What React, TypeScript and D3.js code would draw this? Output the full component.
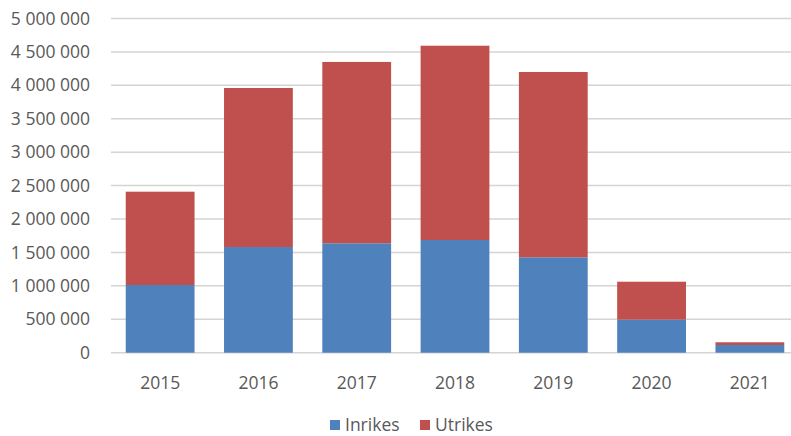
import React, { useEffect, useRef } from 'react';
import * as d3 from 'd3';

const years = ['2015', '2016', '2017', '2018', '2019', '2020', '2021'];
const inrikes = [1013000, 1581000, 1637000, 1686000, 1427000, 494000, 115000];
const utrikes = [1396000, 2379000, 2713000, 2907000, 2773000, 568000, 41000];
const seriesNames = ['Inrikes', 'Utrikes'];
const colors = ['#4F81BD', '#C0504D'];
const yTicks = [0, 500000, 1000000, 1500000, 2000000, 2500000, 3000000, 3500000, 4000000, 4500000, 5000000];

const App = () => {
    const ref = useRef<SVGSVGElement>(null);

    useEffect(() => {
        const width = 791;
        const height = 436;
        const margin = { top: 18.5, right: -8, bottom: 83.3, left: 111 };
        const font = '"Open Sans", "Noto Sans", sans-serif';
        const fontSize = 17.5;

        const svg = d3.select(ref.current);
        svg.selectAll('*').remove();

        const x = d3.scaleBand()
            .domain(years)
            .range([margin.left, width - margin.right])
            .paddingInner(0.3)
            .paddingOuter(0.15);

        const y = d3.scaleLinear()
            .domain([0, 5000000])
            .range([height - margin.bottom, margin.top]);

        const fmt = (v: number) => d3.format(',')(v).replace(/,/g, ' ');

        // gridlines
        svg.append('g')
            .selectAll('line')
            .data(yTicks)
            .join('line')
                .attr('x1', margin.left)
                .attr('x2', width)
                .attr('y1', d => y(d))
                .attr('y2', d => y(d))
                .attr('stroke', '#D4D4D4')
                .attr('stroke-width', 1.5);

        // y labels
        svg.append('g')
            .selectAll('text')
            .data(yTicks)
            .join('text')
                .attr('x', 90)
                .attr('y', d => y(d))
                .attr('dy', '0.35em')
                .attr('text-anchor', 'end')
                .attr('font-family', font)
                .attr('font-size', fontSize)
                .attr('fill', '#595959')
                .text(d => fmt(d));

        const rows = years.map((yr, i) => ({ year: yr, Inrikes: inrikes[i], Utrikes: utrikes[i] }));
        const stacked = d3.stack<any>().keys(seriesNames)(rows);

        svg.append('g')
            .selectAll('g')
            .data(stacked)
            .join('g')
                .attr('fill', (_, i) => colors[i])
            .selectAll('rect')
            .data(d => d)
            .join('rect')
                .attr('x', d => x(d.data.year)!)
                .attr('y', d => y(d[1]))
                .attr('height', d => y(d[0]) - y(d[1]))
                .attr('width', x.bandwidth());

        // x labels
        svg.append('g')
            .selectAll('text')
            .data(years)
            .join('text')
                .attr('x', d => x(d)! + x.bandwidth() / 2)
                .attr('y', 383)
                .attr('dy', '0.35em')
                .attr('text-anchor', 'middle')
                .attr('font-family', font)
                .attr('font-size', fontSize)
                .attr('fill', '#595959')
                .text(d => d);

        // legend
        const legendX = [330, 420];
        const legend = svg.append('g')
            .selectAll('g')
            .data(seriesNames)
            .join('g')
                .attr('transform', (_, i) => `translate(${legendX[i]},425)`);
        legend.append('rect')
            .attr('x', 0)
            .attr('y', -5)
            .attr('width', 10)
            .attr('height', 10)
            .attr('fill', (_, i) => colors[i]);
        legend.append('text')
            .attr('x', 15)
            .attr('y', 0)
            .attr('dy', '0.35em')
            .attr('font-family', font)
            .attr('font-size', fontSize)
            .attr('fill', '#595959')
            .text(d => d);
    }, []);

    return (
        <svg ref={ref} width={791} height={436}
            style={{ position: 'absolute', left: 0, top: 0, background: '#fff' }} />
    );
};

export default App;
